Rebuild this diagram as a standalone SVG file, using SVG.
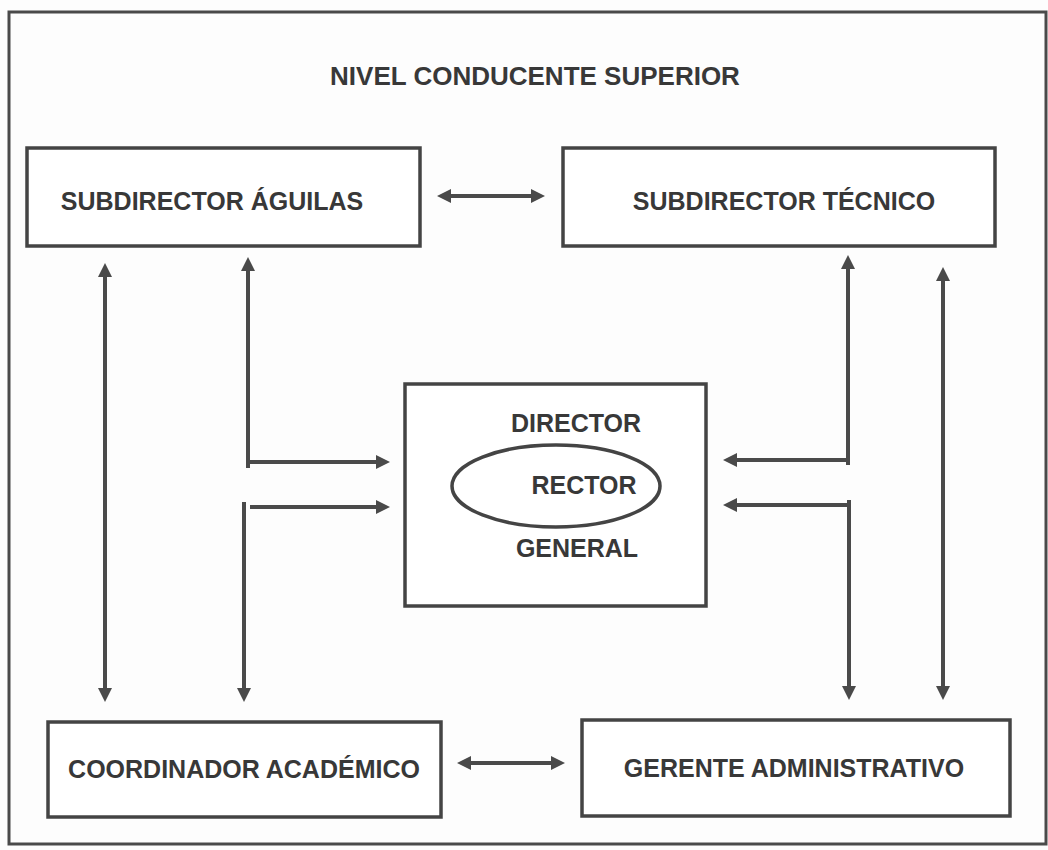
<svg xmlns="http://www.w3.org/2000/svg" width="1048" height="850" viewBox="0 0 1048 850">
  <style>
    .frame { fill: none; stroke: #4a4a4a; stroke-width: 3; }
    .box { fill: #ffffff; stroke: #444444; stroke-width: 3.5; }
    .oval { fill: #ffffff; stroke: #444444; stroke-width: 3.5; }
    .label { font-family: "Liberation Sans", Arial, sans-serif; font-weight: bold; font-size: 25px; fill: #383838; text-anchor: middle; }
    .title { font-size: 26px; }
    .link { fill: none; stroke: #4a4a4a; stroke-width: 4; }
  </style>
  <defs>
    <marker id="head" viewBox="0 0 14 14" markerWidth="14" markerHeight="14" refX="2" refY="7" orient="auto-start-reverse" markerUnits="userSpaceOnUse">
      <path d="M0,0 L14,7 L0,14 z" fill="#4a4a4a"/>
    </marker>
  </defs>

  <!-- page -->
  <rect x="0" y="0" width="1048" height="850" fill="#fdfdfd"/>
  <rect class="frame" x="9" y="12" width="1037" height="832"/>

  <g id="title">
    <text class="label title" x="535" y="85">NIVEL CONDUCENTE SUPERIOR</text>
  </g>

  <g id="subdirector-aguilas">
    <rect class="box" x="27" y="148" width="393" height="98"/>
    <text class="label" x="212" y="210">SUBDIRECTOR ÁGUILAS</text>
  </g>

  <g id="subdirector-tecnico">
    <rect class="box" x="563" y="148" width="432" height="98"/>
    <text class="label" x="784" y="210">SUBDIRECTOR TÉCNICO</text>
  </g>

  <g id="director-rector">
    <rect class="box" x="405" y="384" width="301" height="222"/>
    <ellipse class="oval" cx="556" cy="486" rx="104" ry="41"/>
    <text class="label" x="576" y="432">DIRECTOR</text>
    <text class="label" x="584" y="494">RECTOR</text>
    <text class="label" x="577" y="557">GENERAL</text>
  </g>

  <g id="coordinador-academico">
    <rect class="box" x="48" y="722" width="393" height="95"/>
    <text class="label" x="244" y="778">COORDINADOR ACADÉMICO</text>
  </g>

  <g id="gerente-administrativo">
    <rect class="box" x="582" y="720" width="428" height="96"/>
    <text class="label" x="794" y="777">GERENTE ADMINISTRATIVO</text>
  </g>

  <g id="connectors">
    <!-- horizontal links between the side boxes -->
    <line class="link" x1="449" y1="196" x2="533" y2="196" marker-start="url(#head)" marker-end="url(#head)"/>
    <line class="link" x1="469" y1="763" x2="553" y2="763" marker-start="url(#head)" marker-end="url(#head)"/>
    <!-- left column -->
    <line class="link" x1="105" y1="275" x2="105" y2="690" marker-start="url(#head)" marker-end="url(#head)"/>
    <line class="link" x1="248" y1="269" x2="248" y2="468" marker-start="url(#head)"/>
    <line class="link" x1="246" y1="462" x2="378" y2="462" marker-end="url(#head)"/>
    <line class="link" x1="250" y1="507" x2="378" y2="507" marker-end="url(#head)"/>
    <line class="link" x1="244" y1="502" x2="244" y2="690" marker-end="url(#head)"/>
    <!-- right column -->
    <line class="link" x1="848" y1="267" x2="848" y2="465" marker-start="url(#head)"/>
    <line class="link" x1="850" y1="460" x2="735" y2="460" marker-end="url(#head)"/>
    <line class="link" x1="850" y1="505" x2="735" y2="505" marker-end="url(#head)"/>
    <line class="link" x1="849" y1="500" x2="849" y2="688" marker-end="url(#head)"/>
    <line class="link" x1="943" y1="279" x2="943" y2="688" marker-start="url(#head)" marker-end="url(#head)"/>
  </g>
</svg>
